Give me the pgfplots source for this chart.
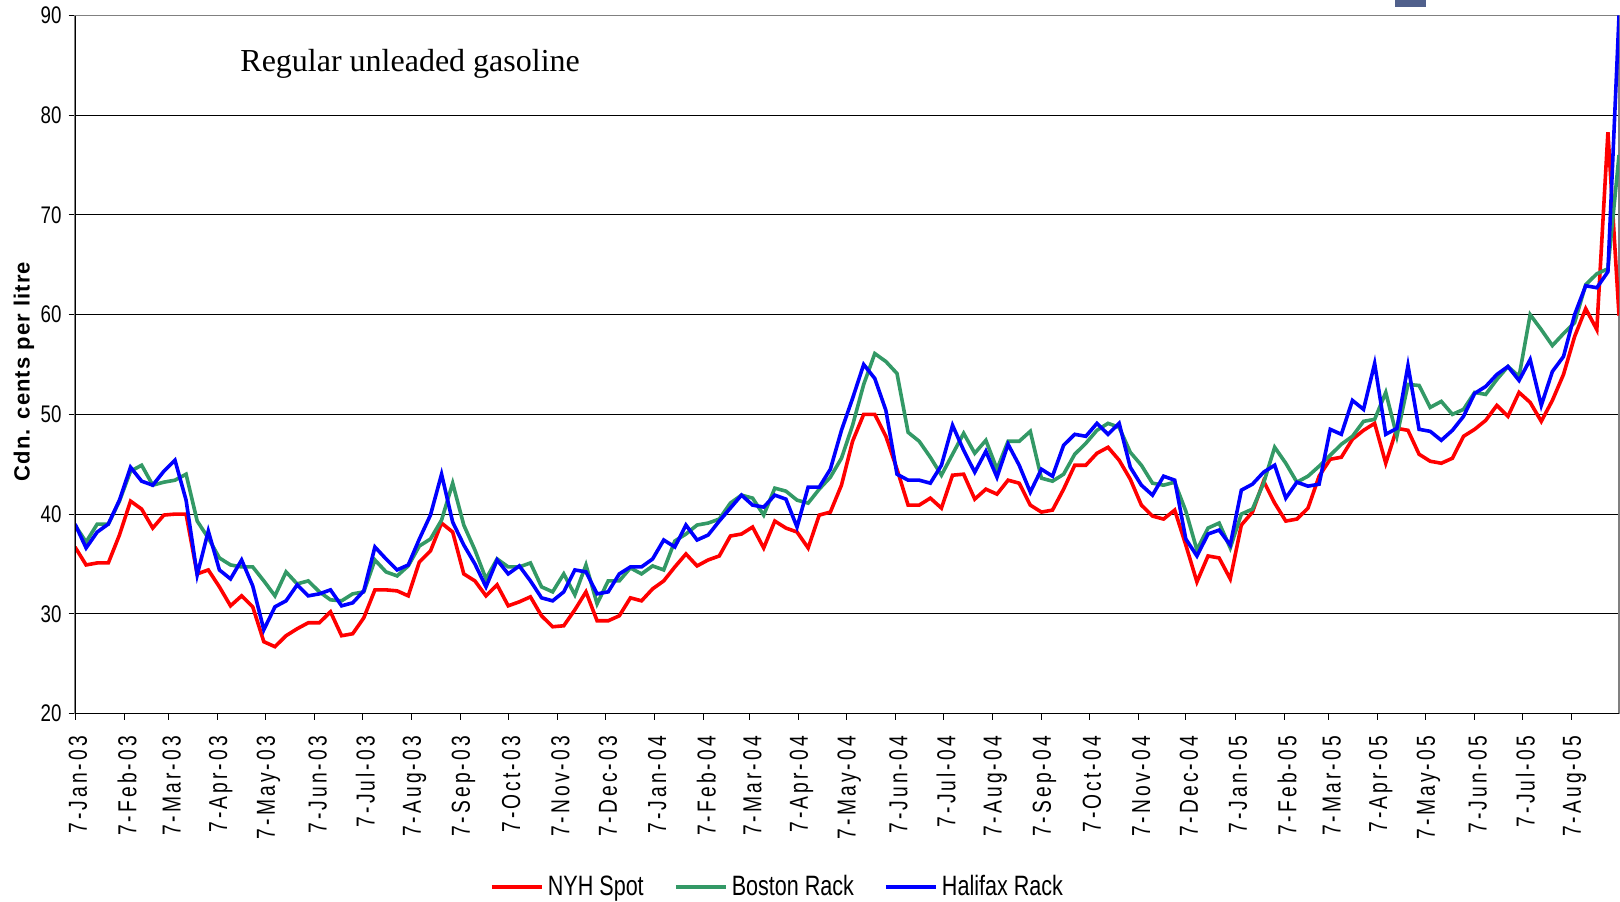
\documentclass[border=0pt]{standalone}
\usepackage{fontspec}
\usepackage{pgfplots}
\usepackage{pgfplotstable}
\pgfplotsset{compat=1.18}
\setmainfont{Liberation Sans}
\newfontfamily\ytickfont[FakeStretch=0.78]{Liberation Sans}
\newfontfamily\xtickfont[FakeStretch=0.74,LetterSpace=12]{Liberation Sans}
\newfontfamily\legfont[FakeStretch=0.77]{Liberation Sans}
\newfontfamily\labfont[LetterSpace=5]{Liberation Sans}
\newfontfamily\titlefont{Liberation Serif}
\definecolor{nyh}{RGB}{255,0,0}
\definecolor{bos}{RGB}{51,153,102}
\definecolor{hal}{RGB}{0,0,255}
\definecolor{blk}{RGB}{80,96,140}

\pgfplotstableread{
d r g b
0 36.7 38.9 39.0
7 34.9 37.2 36.6
14 35.1 39.0 38.2
21 35.1 39.0 39.0
28 37.9 41.3 41.4
35 41.3 44.3 44.7
42 40.5 44.9 43.3
49 38.6 42.9 42.9
56 39.9 43.2 44.3
63 40.0 43.4 45.4
70 40.0 44.0 41.4
77 34.0 39.3 33.9
84 34.4 37.6 38.3
91 32.7 35.6 34.4
98 30.8 34.9 33.5
105 31.8 34.7 35.4
112 30.7 34.7 32.8
119 27.2 33.3 28.4
126 26.7 31.8 30.7
133 27.8 34.2 31.3
140 28.5 33.0 32.9
147 29.1 33.3 31.8
154 29.1 32.2 32.0
161 30.2 31.4 32.4
168 27.8 31.3 30.8
175 28.0 32.0 31.1
182 29.6 32.2 32.3
189 32.4 35.4 36.7
196 32.4 34.2 35.5
203 32.3 33.8 34.4
210 31.8 34.8 34.9
217 35.2 36.8 37.5
224 36.3 37.5 39.9
231 39.1 39.4 44.0
238 38.2 43.1 39.2
245 34.0 38.9 36.9
252 33.3 36.4 35.0
259 31.8 33.5 32.7
266 32.9 35.5 35.4
273 30.8 34.7 34.0
280 31.2 34.7 34.8
287 31.7 35.1 33.3
294 29.8 32.7 31.6
301 28.7 32.2 31.3
308 28.8 34.0 32.2
315 30.4 31.9 34.4
322 32.2 34.9 34.2
329 29.3 31.0 32.0
336 29.3 33.3 32.2
343 29.8 33.3 34.0
350 31.6 34.6 34.7
357 31.3 34.0 34.7
364 32.5 34.8 35.5
371 33.3 34.4 37.4
378 34.7 37.3 36.7
385 36.0 38.0 38.9
392 34.8 38.9 37.4
399 35.4 39.1 37.9
406 35.8 39.5 39.3
413 37.8 41.1 40.6
420 38.0 41.9 41.9
427 38.7 41.6 40.9
434 36.6 39.9 40.7
441 39.3 42.6 41.9
448 38.6 42.3 41.5
455 38.2 41.4 38.7
462 36.6 41.1 42.7
469 39.9 42.5 42.7
476 40.2 43.7 44.5
483 42.9 45.6 48.4
490 47.3 48.9 51.6
497 50.0 53.0 55.0
504 50.0 56.1 53.6
511 47.8 55.3 50.4
518 44.5 54.1 44.0
525 40.9 48.2 43.4
532 40.9 47.3 43.4
539 41.6 45.7 43.1
546 40.6 43.9 44.9
553 43.9 46.0 48.9
560 44.0 48.1 46.4
567 41.5 46.1 44.2
574 42.5 47.4 46.3
581 42.0 44.5 43.7
588 43.4 47.3 47.0
595 43.1 47.3 44.9
602 40.9 48.3 42.2
609 40.2 43.6 44.5
616 40.4 43.3 43.8
623 42.5 44.0 46.9
630 44.9 46.0 48.0
637 44.9 47.1 47.8
644 46.1 48.4 49.1
651 46.7 49.1 48.0
658 45.4 48.7 49.1
665 43.5 46.2 44.7
672 40.9 44.9 42.9
679 39.8 43.1 41.9
686 39.5 42.9 43.8
693 40.4 43.2 43.4
700 36.9 40.3 37.5
707 33.2 36.4 35.8
714 35.8 38.6 38.0
721 35.6 39.1 38.4
728 33.5 36.6 36.9
735 38.9 40.0 42.4
742 40.2 40.5 43.0
749 43.3 43.1 44.2
756 41.1 46.7 44.9
763 39.3 45.1 41.6
770 39.5 43.2 43.2
777 40.6 43.8 42.8
784 43.8 44.8 43.0
791 45.5 45.9 48.5
798 45.7 47.0 48.0
805 47.5 47.8 51.4
812 48.4 49.3 50.5
819 49.1 49.5 55.1
826 45.1 52.2 48.0
833 48.6 47.8 48.6
840 48.4 53.0 54.9
847 46.0 52.9 48.5
854 45.3 50.7 48.3
861 45.1 51.3 47.4
868 45.6 50.0 48.4
875 47.8 50.5 49.8
882 48.5 52.2 52.1
889 49.4 52.0 52.8
896 50.9 53.5 54.0
903 49.8 54.8 54.8
910 52.2 53.8 53.4
917 51.2 60.0 55.5
924 49.3 58.5 50.9
931 51.4 56.9 54.3
938 54.0 58.1 55.8
945 57.8 59.2 60.0
952 60.6 63.0 62.9
959 58.5 64.1 62.7
966 78.3 64.6 64.3
973 59.9 76.0 90.0
}\gasdata

\begin{document}
\begin{tikzpicture}
\path[use as bounding box] (-37.5pt,-94pt) rectangle (772.5pt,356.75pt);
\begin{axis}[
  scale only axis,
  width=772pt, height=349pt,
  xmin=0, xmax=973, ymin=20, ymax=90,
  ytick={20,30,40,50,60,70,80,90},
  xtick={0,31,59,90,120,151,181,212,243,273,304,334,365,396,425,456,486,517,547,578,609,639,670,700,731,762,790,821,851,882,912,943},
  xticklabels={7-Jan-03,7-Feb-03,7-Mar-03,7-Apr-03,7-May-03,7-Jun-03,7-Jul-03,7-Aug-03,7-Sep-03,7-Oct-03,7-Nov-03,7-Dec-03,7-Jan-04,7-Feb-04,7-Mar-04,7-Apr-04,7-May-04,7-Jun-04,7-Jul-04,7-Aug-04,7-Sep-04,7-Oct-04,7-Nov-04,7-Dec-04,7-Jan-05,7-Feb-05,7-Mar-05,7-Apr-05,7-May-05,7-Jun-05,7-Jul-05,7-Aug-05},
  xtick pos=bottom, ytick pos=left,
  tick align=outside,
  major tick length=3.2pt,
  tick style={black, line width=0.5pt},
  ymajorgrids,
  grid style={black, line width=0.5pt},
  axis line style={draw=gray, line width=0.8pt},
  /pgf/number format/assume math mode=true,
  yticklabel style={font=\ytickfont\fontsize{12}{14}\selectfont},
  xticklabel shift=4.5pt,
  xticklabel style={xshift=1.5pt, font=\xtickfont\fontsize{13}{15}\selectfont, rotate=90, anchor=east},
  ylabel={Cdn. cents per litre},
  ylabel style={font=\labfont\bfseries\fontsize{11}{13}\selectfont, at={(axis description cs:-0.033,0.49)}, anchor=center},
  legend style={at={(axis description cs:0.4556,-0.249)}, anchor=center, draw=none, fill=none,
    legend columns=3, font=\legfont\fontsize{14}{16}\selectfont,
    /tikz/every even column/.append style={column sep=13pt}},
  legend cell align=left,
  legend image code/.code={\draw[#1, line width=2pt] (0pt,0pt) -- (25pt,0pt);},
  clip=true,
]
\addplot[nyh, line width=1.8pt] table[x=d, y=r] {\gasdata};
\addlegendentry{NYH Spot}
\addplot[bos, line width=1.8pt] table[x=d, y=g] {\gasdata};
\addlegendentry{Boston Rack}
\addplot[hal, line width=1.8pt] table[x=d, y=b] {\gasdata};
\addlegendentry{Halifax Rack}
\draw[black, line width=0.7pt] (rel axis cs:0,1) -- (rel axis cs:0,0) -- (rel axis cs:1,0);
\node[anchor=west, inner sep=0pt, font=\titlefont\fontsize{16}{18}\selectfont] at (axis cs:104,85.2) {Regular unleaded gasoline};
\end{axis}
\fill[blk] (660pt,353pt) rectangle (675.5pt,357pt);
\end{tikzpicture}
\end{document}
